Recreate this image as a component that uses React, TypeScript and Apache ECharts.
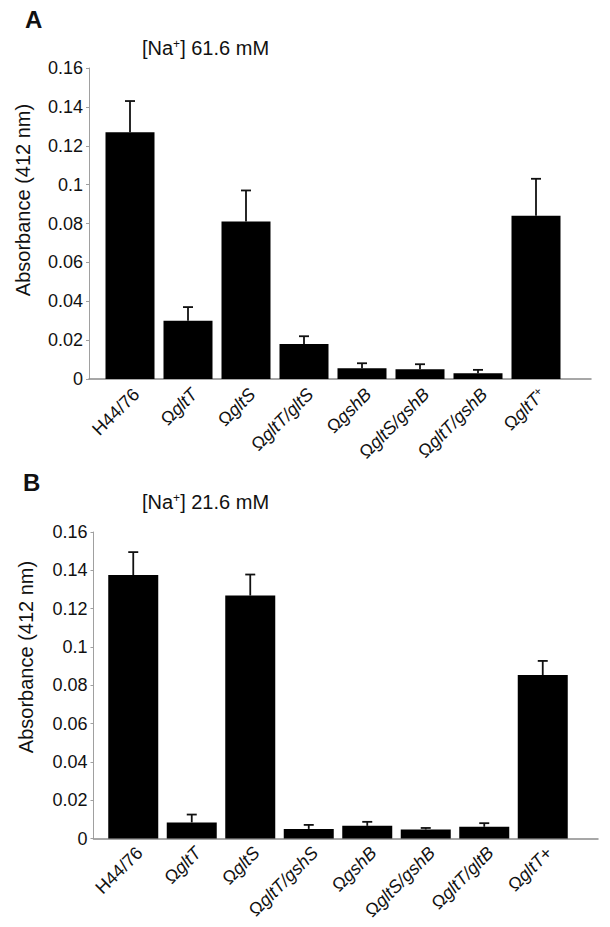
import React, { useEffect, useRef } from "react";
import * as echarts from "echarts";

const categoriesA = ["H44/76", "ΩgltT", "ΩgltS", "ΩgltT/gltS", "ΩgshB", "ΩgltS/gshB", "ΩgltT/gshB", "ΩgltT+"];
const valuesA = [0.127, 0.03, 0.081, 0.018, 0.0055, 0.005, 0.003, 0.084];
const errorsA = [0.016, 0.007, 0.016, 0.004, 0.0026, 0.0026, 0.0017, 0.019];

const categoriesB = ["H44/76", "ΩgltT", "ΩgltS", "ΩgltT/gshS", "ΩgshB", "ΩgltS/gshB", "ΩgltT/gltB", "ΩgltT+"];
const valuesB = [0.1375, 0.0084, 0.1268, 0.005, 0.0066, 0.0047, 0.0061, 0.0853];
const errorsB = [0.012, 0.0041, 0.011, 0.0021, 0.0021, 0.0008, 0.0019, 0.0074];

const yMin = 0;
const yMax = 0.16;
const yStep = 0.02;

const titleA = "61.6 mM";
const titleB = "21.6 mM";
const yTitle = "Absorbance (412 nm)";

const FONT = '"Liberation Sans", Arial, Helvetica, sans-serif';

function labelFormatter(supPlus: boolean) {
  return (s: string) => {
    if (!s.startsWith("Ω")) return `{n|${s}}`;
    const rest = s.slice(1);
    if (rest.endsWith("+")) {
      const core = rest.slice(0, -1);
      return `{n|Ω}{i|${core}}` + (supPlus ? `{s|+}` : `{n|+}`);
    }
    return `{n|Ω}{i|${rest}}`;
  };
}

const errorRender = (params: any, api: any) => {
  const i = api.value(0);
  const v = api.value(1);
  const e = api.value(2);
  const p0 = api.coord([i, v]);
  const p1 = api.coord([i, v + e]);
  const hw = 5;
  const st = { stroke: "#111", lineWidth: 1.8 };
  return {
    type: "group",
    children: [
      { type: "line", shape: { x1: p0[0], y1: p0[1], x2: p1[0], y2: p1[1] }, style: st },
      { type: "line", shape: { x1: p1[0] - hw, y1: p1[1], x2: p1[0] + hw, y2: p1[1] }, style: st },
    ],
  };
};

function frameAxes(gridIndex: number) {
  return {
    x: {
      type: "value",
      gridIndex,
      min: 0,
      max: 1,
      axisLabel: { show: false },
      axisTick: { show: false },
      splitLine: { show: false },
      axisLine: { show: true, lineStyle: { color: "#8a8a8a", width: 1.5 } },
    },
    y: {
      type: "value",
      gridIndex,
      min: yMin,
      max: yMax,
      interval: yStep,
      splitLine: { show: false },
      axisLine: { show: true, lineStyle: { color: "#a0a0a0", width: 1 } },
      axisTick: { show: true, length: 3, lineStyle: { color: "#a0a0a0" } },
      axisLabel: {
        fontSize: 18,
        color: "#111",
        fontFamily: FONT,
        margin: 6,
        padding: [0, 0, 10, 0],
        formatter: (v: number) => (v === 0 ? "0" : String(parseFloat(v.toFixed(2)))),
      },
    },
  };
}

function barAxes(gridIndex: number, cats: string[], supPlus: boolean, margin: number) {
  return {
    x: {
      type: "category",
      gridIndex,
      data: cats,
      axisLine: { show: false },
      axisTick: { show: false },
      axisLabel: {
        interval: 0,
        rotate: 45,
        margin,
        verticalAlign: "top",
        color: "#111",
        fontSize: 18,
        fontFamily: FONT,
        formatter: labelFormatter(supPlus),
        rich: {
          n: { fontSize: 18, fontFamily: FONT, color: "#111" },
          i: { fontSize: 18, fontFamily: FONT, fontStyle: "italic", color: "#111" },
          s: { fontSize: 12, fontFamily: FONT, color: "#111", verticalAlign: "top" },
        },
      },
    },
    y: { type: "value", gridIndex, min: yMin, max: yMax, show: false },
  };
}

export default function App() {
  const ref = useRef<HTMLDivElement>(null);
  useEffect(() => {
    document.body.style.margin = "0";
    const chart = echarts.init(ref.current!, undefined, { renderer: "svg" });
    const fA = frameAxes(0);
    const bA = barAxes(1, categoriesA, true, 6);
    const fB = frameAxes(2);
    const bB = barAxes(3, categoriesB, false, 5);
    const titleText = (t: string) => `{a|[Na}{s|+}{a|] ${t}}`;
    const titleRich = {
      a: { fontSize: 20, fontFamily: FONT, fill: "#111", color: "#111" },
      s: { fontSize: 12, fontFamily: FONT, fill: "#111", color: "#111", verticalAlign: "top" },
    };
    chart.setOption({
      animation: false,
      backgroundColor: "#fff",
      textStyle: { fontFamily: FONT },
      grid: [
        { left: 89, top: 68, width: 502, height: 311 },
        { left: 101, top: 68, width: 464, height: 311 },
        { left: 93.5, top: 532, width: 504.5, height: 306.5 },
        { left: 104, top: 532, width: 468, height: 306.5 },
      ],
      xAxis: [fA.x, bA.x, fB.x, bB.x],
      yAxis: [fA.y, bA.y, fB.y, bB.y],
      series: [
        {
          type: "bar",
          xAxisIndex: 1,
          yAxisIndex: 1,
          data: valuesA,
          barWidth: 49,
          itemStyle: { color: "#000" },
          z: 2,
        },
        {
          type: "custom",
          xAxisIndex: 1,
          yAxisIndex: 1,
          data: valuesA.map((v, i) => [i, v, errorsA[i]]),
          encode: { x: 0, y: 1 },
          renderItem: errorRender,
          z: 3,
        },
        {
          type: "bar",
          xAxisIndex: 3,
          yAxisIndex: 3,
          data: valuesB,
          barWidth: 50,
          itemStyle: { color: "#000" },
          z: 2,
        },
        {
          type: "custom",
          xAxisIndex: 3,
          yAxisIndex: 3,
          data: valuesB.map((v, i) => [i, v, errorsB[i]]),
          encode: { x: 0, y: 1 },
          renderItem: errorRender,
          z: 3,
        },
      ],
      graphic: [
        {
          type: "text",
          left: 25,
          top: 7,
          style: { text: "A", fontSize: 24, fontWeight: "bold", fontFamily: FONT, fill: "#111" },
        },
        {
          type: "text",
          left: 23,
          top: 470,
          style: { text: "B", fontSize: 24, fontWeight: "bold", fontFamily: FONT, fill: "#111" },
        },
        {
          type: "text",
          left: 142,
          top: 38,
          style: { text: titleText(titleA), rich: titleRich, fontFamily: FONT, fill: "#111" },
        },
        {
          type: "text",
          left: 142,
          top: 492,
          style: { text: titleText(titleB), rich: titleRich, fontFamily: FONT, fill: "#111" },
        },
        {
          type: "text",
          x: 23,
          y: 200,
          rotation: Math.PI / 2,
          style: {
            text: yTitle,
            fontSize: 20,
            fontFamily: FONT,
            fill: "#111",
            align: "center",
            verticalAlign: "middle",
          },
        },
        {
          type: "text",
          x: 26,
          y: 657,
          rotation: Math.PI / 2,
          style: {
            text: yTitle,
            fontSize: 20,
            fontFamily: FONT,
            fill: "#111",
            align: "center",
            verticalAlign: "middle",
          },
        },
      ],
    });
    return () => chart.dispose();
  }, []);
  return <div ref={ref} style={{ width: 610, height: 927 }} />;
}
